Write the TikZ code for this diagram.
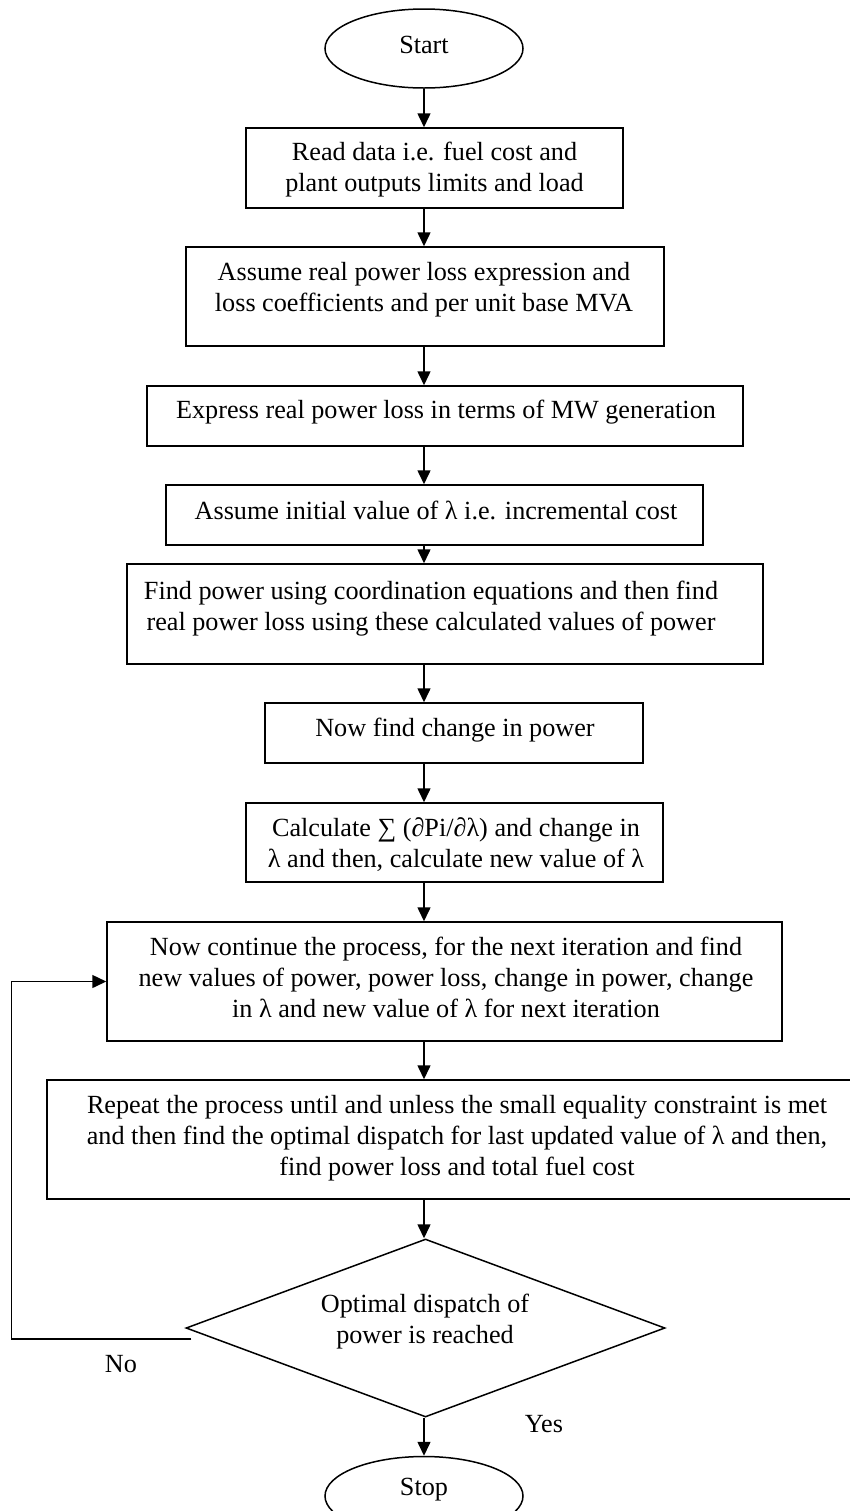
\documentclass[tikz,border=0pt]{standalone}
\usepackage{fontspec}
\setmainfont{Liberation Serif}
\usetikzlibrary{shapes.geometric,arrows.meta}
\begin{document}
\begin{tikzpicture}[x=0.5pt,y=-0.5pt,
  outline/.style={draw, line width=0.75pt, inner sep=0pt},
  box/.style={outline, rectangle},
  oval/.style={outline, ellipse},
  decision/.style={outline, diamond},
  txt/.style={align=center, inner sep=0pt, font=\fontsize{13.1pt}{15.5pt}\selectfont},
  arr/.style={line width=0.75pt, -{Triangle[length=7pt,width=6.5pt]}}]

\useasboundingbox (0,0) rectangle (850,1511);

% shapes of the flow
\node[oval, minimum width=99pt, minimum height=39.5pt] (start) at (424,48.5) {};
\node[box, minimum width=188.5pt, minimum height=40pt] (b1) at (434.5,168) {};
\node[box, minimum width=239pt, minimum height=49.5pt] (b2) at (425,296.5) {};
\node[box, minimum width=298pt, minimum height=30pt] (b3) at (445,416) {};
\node[box, minimum width=268.5pt, minimum height=30pt] (b4) at (434.5,515) {};
\node[box, minimum width=318pt, minimum height=50pt] (b5) at (445,614) {};
\node[box, minimum width=189pt, minimum height=30pt] (b6) at (454,733) {};
\node[box, minimum width=208.5pt, minimum height=39.5pt] (b7) at (454.5,842.5) {};
\node[box, minimum width=337.5pt, minimum height=59.5pt] (b8) at (444.5,981.5) {};
\node[box, minimum width=410pt, minimum height=59.5pt] (b9) at (457,1139.5) {};
\node[decision, minimum width=239.5pt, minimum height=89pt] (dia) at (425.5,1328) {};
\node[oval, minimum width=99pt, minimum height=39.5pt] (stop) at (424,1496) {};

% texts
\node[txt] (tstart) at (424,45) {Start};
\node[txt] (t1) at (434.5,170) {Read data i.e. fuel cost and\\plant outputs limits and load};
\node[txt] (t2) at (424,289.5) {Assume real power loss expression and\\loss coefficients and per unit base MVA};
\node[txt] (t3) at (446,412.5) {Express real power loss in terms of MW generation};
\node[txt] (t4) at (436,510) {Assume initial value of λ i.e. incremental cost};
\node[txt] (t5) at (431,608.5) {Find power using coordination equations and then find\\real power loss using these calculated values of power};
\node[txt] (t6) at (455,730.5) {Now find change in power};
\node[txt] (t7) at (456,844.5) {Calculate ∑ (∂Pi/∂λ) and change in\\λ and then, calculate new value of λ};
\node[txt] (t8) at (446,977) {Now continue the process, for the next iteration and find\\new values of power, power loss, change in power, change\\in λ and new value of λ for next iteration};
\node[txt] (t9) at (457,1138.5) {Repeat the process until and unless the small equality constraint is met\\and then find the optimal dispatch for last updated value of λ and then,\\find power loss and total fuel cost};
\node[txt] (tdia) at (425,1321.5) {Optimal dispatch of\\power is reached};
\node[txt] (tstop) at (424,1489.5) {Stop};
\node[txt] (tno) at (121,1364) {No};
\node[txt] (tyes) at (544,1424) {Yes};

% main flow
\draw[arr] (start.south) -- (b1.north -| start.south);
\draw[arr] (b1.south -| start.south) -- (b2.north -| start.south);
\draw[arr] (b2.south -| start.south) -- (b3.north -| start.south);
\draw[arr] (b3.south -| start.south) -- (b4.north -| start.south);
\draw[arr] (b4.south -| start.south) -- (b5.north -| start.south);
\draw[arr] (b5.south -| start.south) -- (b6.north -| start.south);
\draw[arr] (b6.south -| start.south) -- (b7.north -| start.south);
\draw[arr] (b7.south -| start.south) -- (b8.north -| start.south);
\draw[arr] (b8.south -| start.south) -- (b9.north -| start.south);
\draw[arr] (b9.south -| start.south) -- (dia.north -| start.south);
\draw[arr] (dia.south -| start.south) -- (stop.north);

% loop back when not optimal
\coordinate (nofrom) at ([shift={(6,11)}]dia.west);
\draw[arr] (nofrom) -- ++(-180,0) |- (b8.west);

\end{tikzpicture}
\end{document}
